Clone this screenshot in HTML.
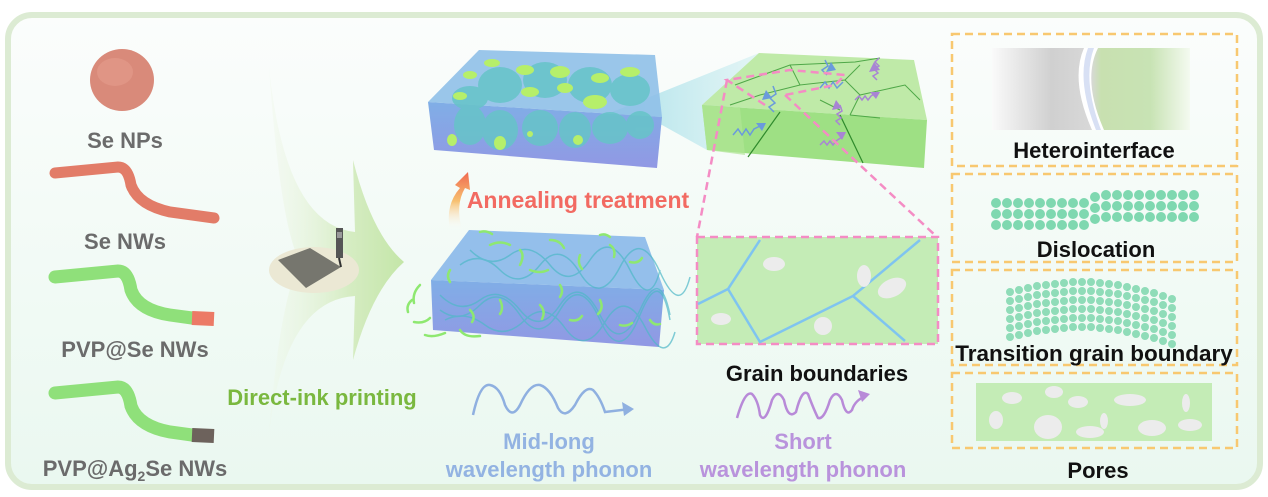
<!DOCTYPE html>
<html><head><meta charset="utf-8"><style>
html,body{margin:0;padding:0;background:#fff;}
svg{display:block;font-family:"Liberation Sans",sans-serif;font-weight:bold;}
</style></head><body>
<svg width="1268" height="497" viewBox="0 0 1268 497" xmlns="http://www.w3.org/2000/svg">
<defs>
<linearGradient id="bg" x1="0" y1="0" x2="0" y2="1"><stop offset="0" stop-color="#fbfdfc"/><stop offset="1" stop-color="#eaf8f0"/></linearGradient>
<linearGradient id="arr" x1="0" y1="0" x2="1" y2="0"><stop offset="0" stop-color="#eef6e6" stop-opacity="0.3"/><stop offset="0.6" stop-color="#d5ecc2"/><stop offset="1" stop-color="#c4e6a8"/></linearGradient>
<linearGradient id="anneal" x1="0" y1="1" x2="0" y2="0"><stop offset="0" stop-color="#fff" stop-opacity="0"/><stop offset="0.5" stop-color="#f7c070"/><stop offset="1" stop-color="#f06a50"/></linearGradient>
<linearGradient id="blk" x1="0" y1="0" x2="0" y2="1"><stop offset="0" stop-color="#80aee6"/><stop offset="1" stop-color="#9198e4"/></linearGradient>
<linearGradient id="het" x1="0" y1="0" x2="1" y2="0"><stop offset="0" stop-color="#fafafa"/><stop offset="0.3" stop-color="#d0d0d0"/><stop offset="0.5" stop-color="#d8d8d8"/><stop offset="0.55" stop-color="#c8e0b0"/><stop offset="0.8" stop-color="#c8e3b4"/><stop offset="1" stop-color="#f4faf0"/></linearGradient>
<linearGradient id="cone" x1="0" y1="0" x2="1" y2="0"><stop offset="0" stop-color="#9adbe6" stop-opacity="0.8"/><stop offset="1" stop-color="#d4f0f2" stop-opacity="0.6"/></linearGradient>
</defs>
<rect x="0" y="0" width="1268" height="497" fill="#fff"/>
<rect x="8" y="15" width="1252" height="472" rx="24" fill="url(#bg)" stroke="#dcebd3" stroke-width="6"/>

<!-- left materials -->
<ellipse cx="122" cy="80" rx="32" ry="31" fill="#d98a7a"/>
<ellipse cx="115" cy="72" rx="18" ry="14" fill="#e49c8c" opacity="0.6"/>
<text x="125" y="148" font-size="22" fill="#6b6b6b" text-anchor="middle">Se NPs</text>
<path d="M55,173 L118,167 Q128,167 131,185 Q138,205 170,212 L214,218" fill="none" stroke="#e27c68" stroke-width="11" stroke-linecap="round"/>
<text x="125" y="249" font-size="22" fill="#6b6b6b" text-anchor="middle">Se NWs</text>
<path d="M55,277 L118,271 Q128,271 131,290 Q138,310 170,315 L192,318" fill="none" stroke="#8fe07a" stroke-width="13" stroke-linecap="round"/>
<path d="M192,318 L214,319" fill="none" stroke="#ec7a66" stroke-width="14"/>
<text x="135" y="357" font-size="22" fill="#6b6b6b" text-anchor="middle">PVP@Se NWs</text>
<path d="M55,393 L118,387 Q128,387 131,406 Q138,426 170,432 L192,435" fill="none" stroke="#8fe07a" stroke-width="13" stroke-linecap="round"/>
<path d="M192,435 L214,436" fill="none" stroke="#6d625c" stroke-width="14"/>
<text x="135" y="476" font-size="22" fill="#6b6b6b" text-anchor="middle">PVP@Ag<tspan font-size="14" dy="5">2</tspan><tspan dy="-5">Se NWs</tspan></text>

<!-- printing arrow -->
<path d="M269,67 Q285,225 355,232 L353,160 Q372,235 404,262 Q372,290 353,360 L355,296 Q285,300 269,433 Q280,300 300,262 Q280,225 269,67 Z" fill="url(#arr)"/>
<ellipse cx="314" cy="270" rx="45" ry="23" fill="#ebe8d4"/>
<polygon points="278,260 310,248 341,267 306,288" fill="#76766e"/>
<rect x="336" y="228" width="7" height="30" fill="#555"/>
<rect x="337" y="232" width="5" height="6" fill="#999"/>
<path d="M339,258 L341,267" stroke="#333" stroke-width="2"/>
<text x="322" y="405" font-size="22" fill="#7ab83f" text-anchor="middle">Direct-ink printing</text>

<!-- cone -->
<polygon points="610,113 759,53 707,150 662,125" fill="url(#cone)"/>

<!-- top block -->
<polygon points="479,50 655,55 662,117 428,102" fill="#8fc0e8" opacity="0.9"/>
<polygon points="428,102 662,117 657,168 434,150" fill="url(#blk)"/>
<g fill="#66c4c8" opacity="0.85">
<ellipse cx="470" cy="125" rx="16" ry="20"/><ellipse cx="500" cy="130" rx="18" ry="20"/><ellipse cx="540" cy="128" rx="18" ry="18"/><ellipse cx="575" cy="130" rx="16" ry="18"/><ellipse cx="610" cy="128" rx="18" ry="16"/><ellipse cx="640" cy="125" rx="14" ry="14"/>
<ellipse cx="500" cy="85" rx="22" ry="18"/><ellipse cx="545" cy="80" rx="22" ry="18"/><ellipse cx="590" cy="85" rx="22" ry="18"/><ellipse cx="630" cy="90" rx="20" ry="16"/><ellipse cx="470" cy="98" rx="18" ry="12"/>
</g>
<g fill="#b6ef6a">
<ellipse cx="492" cy="63" rx="8" ry="4"/><ellipse cx="525" cy="70" rx="9" ry="5"/><ellipse cx="560" cy="72" rx="10" ry="6"/><ellipse cx="600" cy="78" rx="9" ry="5"/><ellipse cx="630" cy="72" rx="10" ry="5"/><ellipse cx="470" cy="75" rx="7" ry="4"/><ellipse cx="530" cy="92" rx="9" ry="5"/><ellipse cx="565" cy="88" rx="8" ry="5"/><ellipse cx="595" cy="102" rx="12" ry="7"/><ellipse cx="460" cy="96" rx="7" ry="4"/>
<ellipse cx="452" cy="140" rx="5" ry="6"/><ellipse cx="500" cy="143" rx="6" ry="7"/><ellipse cx="578" cy="140" rx="5" ry="5"/><ellipse cx="530" cy="134" rx="3" ry="3"/>
</g>

<!-- annealing -->
<path d="M450,230 Q445,205 460,188 L455,185 L468,172 L470,190 L465,188 Q455,205 462,230 Z" fill="url(#anneal)"/>
<text x="578" y="208" font-size="23" fill="#f26a62" text-anchor="middle">Annealing treatment</text>

<!-- bottom block -->
<polygon points="469,230 645,237 664,290 431,280" fill="#8ab8ea" opacity="0.9"/>
<polygon points="431,280 664,290 659,347 433,330" fill="url(#blk)"/>
<g fill="none" stroke="#4fb8c8" stroke-width="1.5" opacity="0.7">
<path d="M440,295 q20,20 40,5 t40,10 t40,-5 t40,10 t40,-5 t30,5"/><path d="M440,310 q20,15 40,-5 t40,10 t40,-5 t40,10 t40,-5 t30,5"/><path d="M445,320 q20,-10 40,5 t40,-5 t40,8 t40,-6 t40,5 t30,5"/><path d="M470,250 q20,20 40,5 t40,10 t40,-5 t40,10 t30,0"/><path d="M460,265 q20,-15 40,5 t40,-5 t40,8 t40,-6 t40,5 t30,5"/>
</g>
<g fill="none" stroke="#8ee870" stroke-width="2.5" stroke-linecap="round">
<path d="M420,285 q-8,8 -6,18"/><path d="M412,300 q-6,5 -4,12"/><path d="M430,318 q-6,6 -16,4"/><path d="M425,335 q8,3 20,-2"/><path d="M460,330 q5,8 20,6"/><path d="M490,245 q10,-5 20,0"/><path d="M520,250 q5,5 0,15"/><path d="M550,240 q10,0 14,8"/><path d="M580,255 q-3,8 2,14"/><path d="M610,245 q6,4 4,12"/><path d="M630,262 q8,2 12,-4"/><path d="M500,300 q4,8 0,14"/><path d="M540,305 q6,6 2,14"/><path d="M570,320 q8,2 12,-4"/><path d="M600,300 q4,8 -2,14"/><path d="M620,325 q6,2 12,-2"/><path d="M470,310 q6,6 2,12"/><path d="M530,270 q10,4 18,0"/><path d="M560,285 q4,6 0,12"/><path d="M450,270 q-4,6 0,12"/><path d="M650,320 q4,6 10,4"/><path d="M480,232 q6,-2 12,2"/><path d="M600,235 q5,-2 10,2"/>
</g>

<!-- green block -->
<polygon points="759,53 914,60 927,120 702,105" fill="#bfeaa8"/>
<polygon points="702,105 927,120 924,168 707,150" fill="#9ee084"/>
<polygon points="702,105 740,108 745,155 707,150" fill="#b0e696" opacity="0.7"/>
<g fill="none" stroke="#4fa848" stroke-width="1">
<path d="M735,85 L790,65 L855,62 L880,58"/><path d="M790,65 L800,85 L845,80 L860,95 L850,115"/><path d="M800,85 L760,95 L730,105"/><path d="M845,80 L860,65"/><path d="M860,95 L905,85 L920,100"/><path d="M850,115 L880,118"/><path d="M820,100 L840,110"/>
</g>
<g fill="none" stroke="#2f8a2c" stroke-width="1.2">
<path d="M780,112 L748,157"/><path d="M840,115 L863,163"/>
</g>
<g fill="none" stroke="#6a9adc" stroke-width="1.5">
<path d="M733,135 l5,-6 l4,6 l4,-6 l4,6 l4,-6 l8,-4"/><path d="M774,112 l-5,-5 l6,-4 l-5,-5 l6,-4 l-3,-8"/><path d="M820,88 l5,-6 l4,6 l4,-6 l4,6 l6,-6"/><path d="M827,75 l-5,-5 l6,-4 l-3,-6"/>
</g>
<g fill="none" stroke="#a884d4" stroke-width="1.5">
<path d="M877,80 l-4,-4 l5,-3 l-4,-4 l5,-3 l-4,-4 l4,-4"/><path d="M855,100 l4,-4 l3,4 l3,-4 l3,4 l3,-4 l6,-4"/><path d="M840,125 l-4,-4 l5,-3 l-4,-4 l5,-3 l-2,-6"/><path d="M820,145 l4,-4 l3,4 l3,-4 l3,4 l3,-4 l6,-4"/>
</g>
<g fill="#a884d4"><polygon points="874,62 869,72 880,70"/><polygon points="880,92 870,92 876,99"/><polygon points="836,100 832,110 842,108"/><polygon points="846,132 836,132 842,140"/></g>
<g fill="#6a9adc"><polygon points="766,90 762,100 772,98"/><polygon points="766,123 756,123 762,131"/><polygon points="831,62 826,72 836,70"/></g>
<path d="M765,105 L727,80 L790,70 L845,75 L835,85 L785,95" fill="none" stroke="#f48cc4" stroke-width="2.5" stroke-dasharray="8,5"/>
<path d="M727,80 L697,237 M785,95 L937,237" fill="none" stroke="#f48cc4" stroke-width="2.5" stroke-dasharray="8,5"/>

<!-- grain box -->
<rect x="697" y="237" width="241" height="107" fill="#c4ecb6" stroke="#f48cc4" stroke-width="2.5" stroke-dasharray="8,5"/>
<g fill="none" stroke="#7fc4f0" stroke-width="2.5">
<path d="M760,240 L728,289 L698,304"/><path d="M728,289 L760,342 L853,296 L920,240"/><path d="M853,296 L905,341"/>
</g>
<g fill="#ececec">
<ellipse cx="774" cy="264" rx="11" ry="7"/><ellipse cx="864" cy="276" rx="7" ry="11"/><ellipse cx="892" cy="288" rx="15" ry="9" transform="rotate(-25 892 288)"/><ellipse cx="721" cy="319" rx="10" ry="6"/><ellipse cx="823" cy="326" rx="9" ry="9"/>
</g>
<text x="817" y="381" font-size="22" fill="#111" text-anchor="middle">Grain boundaries</text>

<!-- waves -->
<path d="M473,415 Q480,383 490,385 Q500,387 505,405 Q512,420 520,405 Q530,383 540,385 Q550,388 558,408 Q565,420 575,405 Q585,385 593,390 Q600,397 605,412 L630,409" fill="none" stroke="#8fb0e0" stroke-width="2.5"/>
<polygon points="634,409 622,402 624,416" fill="#8fb0e0"/>
<text x="549" y="449" font-size="22" fill="#93b3e2" text-anchor="middle">Mid-long</text>
<text x="549" y="477" font-size="22" fill="#93b3e2" text-anchor="middle">wavelength phonon</text>
<path d="M737,418 Q745,390 752,394 Q758,400 760,415 Q765,425 772,400 Q778,388 784,400 Q788,420 796,412 Q802,388 808,394 Q814,410 818,418 Q824,420 830,400 Q836,388 842,400 Q846,418 852,410 Q855,400 866,396" fill="none" stroke="#b88ad8" stroke-width="2.5"/>
<polygon points="870,394 858,390 862,402" fill="#b88ad8"/>
<text x="803" y="449" font-size="22" fill="#b993dc" text-anchor="middle">Short</text>
<text x="803" y="477" font-size="22" fill="#b993dc" text-anchor="middle">wavelength phonon</text>

<!-- right boxes -->
<g fill="none" stroke="#f8c870" stroke-width="2.5" stroke-dasharray="8,5">
<rect x="952" y="34" width="285" height="132"/><rect x="952" y="174" width="285" height="88"/><rect x="952" y="270" width="285" height="95"/><rect x="952" y="373" width="285" height="75"/>
</g>
<rect x="992" y="48" width="198" height="82" fill="url(#het)"/>
<path d="M1084,48 Q1070,80 1092,130 L1104,130 Q1082,80 1098,48 Z" fill="#ffffff"/>
<path d="M1088,48 Q1076,80 1096,130 L1101,130 Q1082,80 1094,48 Z" fill="#d8e0f4"/>
<text x="1094" y="158" font-size="22" fill="#111" text-anchor="middle">Heterointerface</text>
<g fill="#7fd8b0">
<g id="r1"><circle cx="996" cy="203" r="5"/><circle cx="1007" cy="203" r="5"/><circle cx="1018" cy="203" r="5"/><circle cx="1029" cy="203" r="5"/><circle cx="1040" cy="203" r="5"/><circle cx="1051" cy="203" r="5"/><circle cx="1062" cy="203" r="5"/><circle cx="1073" cy="203" r="5"/><circle cx="1084" cy="203" r="5"/></g>
<use href="#r1" y="11"/><use href="#r1" y="22"/>
<g id="r2"><circle cx="1095" cy="197" r="5"/><circle cx="1106" cy="195" r="5"/><circle cx="1117" cy="195" r="5"/><circle cx="1128" cy="195" r="5"/><circle cx="1139" cy="195" r="5"/><circle cx="1150" cy="195" r="5"/><circle cx="1161" cy="195" r="5"/><circle cx="1172" cy="195" r="5"/><circle cx="1183" cy="195" r="5"/><circle cx="1194" cy="195" r="5"/></g>
<use href="#r2" y="11"/><use href="#r2" y="22"/>
</g>
<text x="1096" y="257" font-size="22" fill="#111" text-anchor="middle">Dislocation</text>
<g fill="#8fdcb8">
<g id="r3"><circle cx="1010" cy="292" r="4"/><circle cx="1019" cy="290" r="4"/><circle cx="1028" cy="288" r="4"/><circle cx="1037" cy="286" r="4"/><circle cx="1046" cy="285" r="4"/><circle cx="1055" cy="284" r="4"/><circle cx="1064" cy="283" r="4"/><circle cx="1073" cy="282" r="4"/><circle cx="1082" cy="282" r="4"/><circle cx="1091" cy="282" r="4"/><circle cx="1100" cy="283" r="4"/><circle cx="1109" cy="284" r="4"/><circle cx="1118" cy="285" r="4"/><circle cx="1127" cy="287" r="4"/><circle cx="1136" cy="289" r="4"/><circle cx="1145" cy="291" r="4"/><circle cx="1154" cy="293" r="4"/><circle cx="1163" cy="296" r="4"/><circle cx="1172" cy="299" r="4"/></g>
<use href="#r3" y="9"/><use href="#r3" y="18"/><use href="#r3" y="27"/><use href="#r3" y="36"/><use href="#r3" y="45"/>
</g>
<text x="1094" y="361" font-size="22.5" fill="#111" text-anchor="middle">Transition grain boundary</text>
<rect x="976" y="383" width="236" height="58" fill="#c4ecb6"/>
<g fill="#ececec">
<ellipse cx="1012" cy="398" rx="10" ry="6"/><ellipse cx="1054" cy="392" rx="9" ry="6"/><ellipse cx="1078" cy="402" rx="10" ry="6"/><ellipse cx="1130" cy="400" rx="16" ry="6"/><ellipse cx="1186" cy="403" rx="4" ry="9"/><ellipse cx="996" cy="420" rx="7" ry="9"/><ellipse cx="1048" cy="427" rx="14" ry="12"/><ellipse cx="1104" cy="421" rx="4" ry="8"/><ellipse cx="1152" cy="428" rx="14" ry="8"/><ellipse cx="1190" cy="425" rx="12" ry="6"/><ellipse cx="1090" cy="432" rx="14" ry="6"/>
</g>
<text x="1098" y="478" font-size="22" fill="#111" text-anchor="middle">Pores</text>
</svg>
</body></html>
